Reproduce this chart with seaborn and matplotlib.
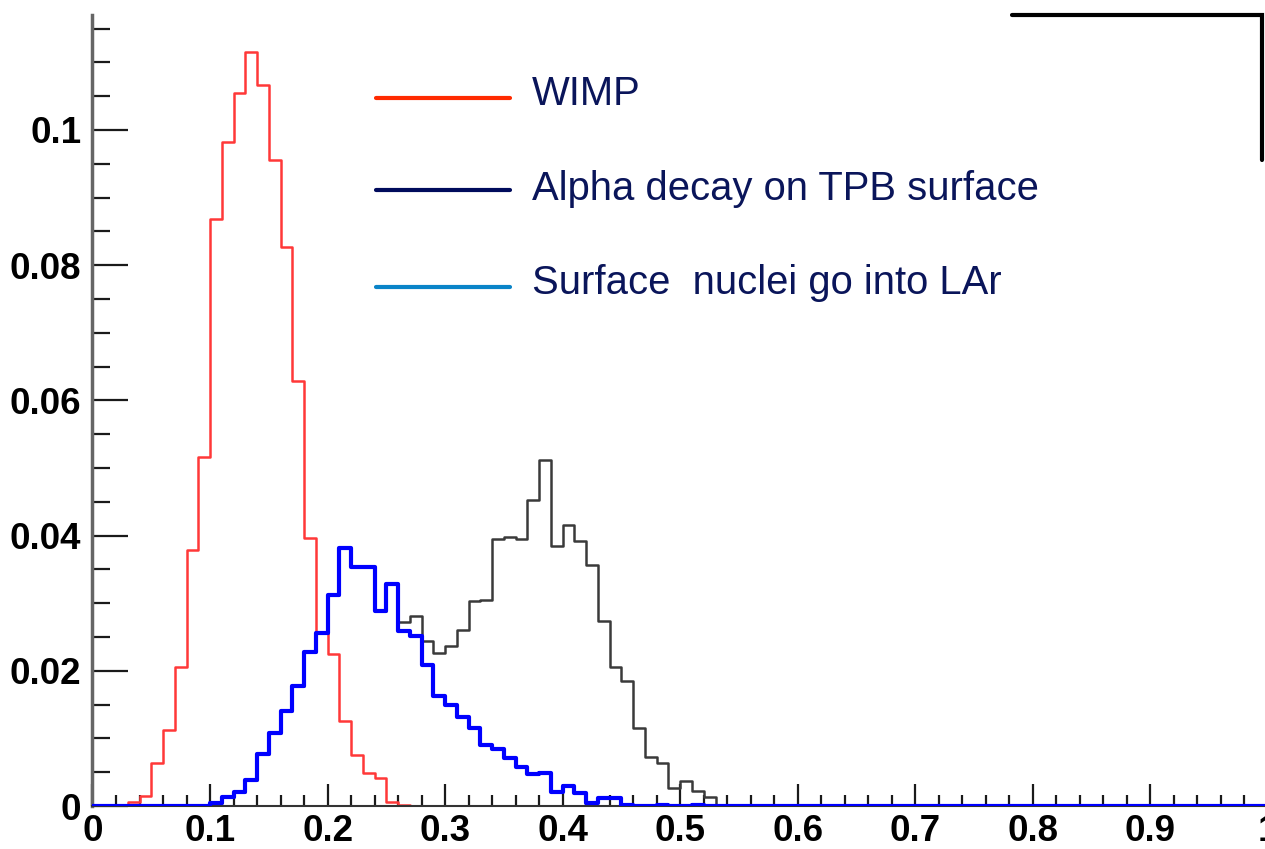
import numpy as np
import pandas as pd
import matplotlib
matplotlib.use("Agg")
import matplotlib.pyplot as plt
import seaborn as sns
from matplotlib.lines import Line2D
from matplotlib.ticker import MultipleLocator

# ---------------- data (bin width 0.01, bins from 0 to 1) ----------------
bin_edges = [round(i * 0.01, 4) for i in range(101)]
bin_width = 0.01

# WIMP: bins starting at 0.03
wimp_start = 0.03
wimp_values = [0.0006, 0.0015, 0.0064, 0.0113, 0.0206, 0.0379, 0.0516, 0.0868,
               0.0982, 0.1055, 0.1116, 0.1067, 0.0955, 0.0827, 0.0629, 0.0397,
               0.0258, 0.0225, 0.0125, 0.0076, 0.0049, 0.0041, 0.0006, 0.0002]

# Alpha decay on TPB surface: bins starting at 0.10
alpha_start = 0.10
alpha_values = [0.0004, 0.0013, 0.0021, 0.0038, 0.0077, 0.0108, 0.0140, 0.0177,
                0.0228, 0.0256, 0.0312, 0.0381, 0.0353, 0.0353, 0.0288, 0.0329,
                0.0272, 0.0281, 0.0244, 0.0227, 0.0237, 0.0260, 0.0303, 0.0305,
                0.0395, 0.0398, 0.0395, 0.0452, 0.0512, 0.0384, 0.0415, 0.0392,
                0.0356, 0.0274, 0.0205, 0.0185, 0.0116, 0.0073, 0.0064, 0.0026,
                0.0037, 0.0022, 0.0013]

# Surface nuclei go into LAr: bins starting at 0.10
lar_start = 0.10
lar_values = [0.0004, 0.0013, 0.0021, 0.0038, 0.0077, 0.0108, 0.0140, 0.0177,
              0.0228, 0.0256, 0.0312, 0.0381, 0.0353, 0.0353, 0.0288, 0.0329,
              0.0259, 0.0252, 0.0209, 0.0162, 0.0150, 0.0132, 0.0115, 0.0090,
              0.0084, 0.0071, 0.0058, 0.0047, 0.0049, 0.0021, 0.0029, 0.0019,
              0.0005, 0.0012, 0.0012, 0.0002, 0.0000, 0.0000, 0.0002, 0.0000,
              0.0000, 0.0002]

legend_labels = ["WIMP", "Alpha decay on TPB surface", "Surface  nuclei go into LAr"]
legend_colors = ["#ff2a00", "#000b5c", "#0a84c8"]

x_ticks = [0, 0.1, 0.2, 0.3, 0.4, 0.5, 0.6, 0.7, 0.8, 0.9, 1.0]
x_tick_labels = ["0", "0.1", "0.2", "0.3", "0.4", "0.5", "0.6", "0.7", "0.8", "0.9", "1"]
y_ticks = [0, 0.02, 0.04, 0.06, 0.08, 0.1]
y_tick_labels = ["0", "0.02", "0.04", "0.06", "0.08", "0.1"]


def to_frame(start, values):
    centers = start + bin_width * (np.arange(len(values)) + 0.5)
    return pd.DataFrame({"x": centers, "w": np.asarray(values, dtype=float)})


# ---------------- figure ----------------
sns.set_style("white")
plt.rcParams['font.family'] = ['Liberation Sans', 'DejaVu Sans']

W, H = 1265, 849
fig = plt.figure(figsize=(W / 100, H / 100), dpi=100)
ax = fig.add_axes([92.5 / W, (H - 806) / H, (1268 - 92.5) / W, (806 - 15) / H])

series = [
    (wimp_start, wimp_values, "#ff3838", 1.8, 2),
    (alpha_start, alpha_values, "#3a3a3a", 1.8, 3),
    (lar_start, lar_values, "#0000ff", 3.0, 4),
]
for start, vals, color, lw, z in series:
    sns.histplot(data=to_frame(start, vals), x="x", weights="w", bins=bin_edges,
                 element="step", fill=False, color=color, linewidth=lw,
                 ax=ax, zorder=z)

ax.set_xlim(0, 1)
ax.set_ylim(0, 0.117)
ax.set_xlabel("")
ax.set_ylabel("")

ax.set_xticks(x_ticks)
ax.set_xticklabels(x_tick_labels, fontsize=26.5, fontweight="bold", color="black")
ax.set_yticks(y_ticks)
ax.set_yticklabels(y_tick_labels, fontsize=26.5, fontweight="bold", color="black")
ax.xaxis.set_minor_locator(MultipleLocator(0.02))
ax.yaxis.set_minor_locator(MultipleLocator(0.005))

ax.tick_params(axis="x", which="major", direction="in", length=16, width=1.6,
               color="#1a1a1a", pad=6, bottom=True)
ax.tick_params(axis="x", which="minor", direction="in", length=8, width=1.6,
               color="#1a1a1a", bottom=True)
ax.tick_params(axis="y", which="major", direction="in", length=26, width=1.6,
               color="#1a1a1a", pad=8, left=True)
ax.tick_params(axis="y", which="minor", direction="in", length=13, width=1.6,
               color="#1a1a1a", left=True)

for s in ["top", "right"]:
    ax.spines[s].set_visible(False)
ax.spines["left"].set_color("#666666")
ax.spines["left"].set_linewidth(2.5)
ax.spines["bottom"].set_color("#333333")
ax.spines["bottom"].set_linewidth(1.5)
ax.patch.set_alpha(0)

# ---------------- legend (manual, figure pixel coordinates) ----------------
text_color = "#0a155a"
legend_line_y = [98, 190, 287]
legend_text_base = [105, 200, 294]
for lab, col, ly, ty in zip(legend_labels, legend_colors, legend_line_y, legend_text_base):
    fig.add_artist(Line2D([376 / W, 510 / W], [1 - ly / H, 1 - ly / H],
                          color=col, lw=3, transform=fig.transFigure))
    fig.text(532 / W, 1 - ty / H, lab, fontsize=28.8, color=text_color,
             ha="left", va="baseline")

# partial frame at top right
fig.add_artist(Line2D([1012 / W, 1262 / W, 1262 / W],
                      [1 - 15 / H, 1 - 15 / H, 1 - 160 / H],
                      color="black", lw=3, transform=fig.transFigure,
                      solid_joinstyle="miter"))

fig.savefig("out.png", dpi=100)
